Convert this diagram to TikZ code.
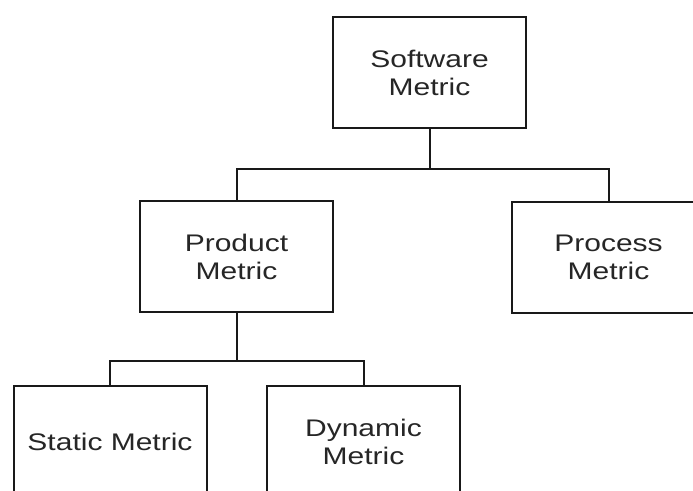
\documentclass[tikz,border=0pt]{standalone}
\usepackage{fontspec}
\newfontfamily\boxfont[FakeStretch=1.25]{Liberation Sans}
\begin{document}
\begin{tikzpicture}[x=1pt,y=-1pt,
  box/.style={draw=black!90, line width=2pt, minimum width=193pt, minimum height=111pt,
    inner sep=0pt, align=center, font=\boxfont\fontsize{24pt}{28pt}\selectfont, text=black!85},
  link/.style={draw=black!90, line width=2pt}]
\useasboundingbox (0,0) rectangle (693,490);
\clip (0,0) rectangle (693,490);
\fill[white] (0,0) rectangle (693,490);
\node[box] (sw) at (429.5,72.5) {Software\\Metric};
\node[box] (prod) at (236.5,256.5) {Product\\Metric};
\node[box] (proc) at (608.5,257.5) {Process\\Metric};
\node[box] (stat) at (110,441.5) {Static Metric};
\node[box] (dyn) at (363.5,441.5) {Dynamic\\Metric};
\coordinate (j1) at (429.5,169);
\coordinate (j2) at (236.5,361);
\draw[link] (sw.south) -- (j1);
\draw[link] (prod.north) |- (j1) -| (proc.north);
\draw[link] (prod.south) -- (j2);
\draw[link] (stat.north) |- (j2) -| (dyn.north);
\end{tikzpicture}
\end{document}
